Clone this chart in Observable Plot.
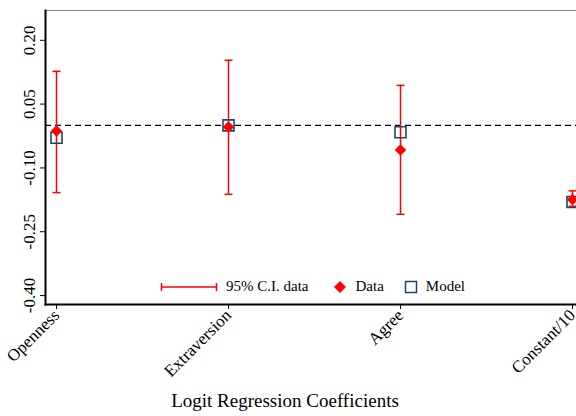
<!DOCTYPE html>
<html>
<head>
<meta charset="utf-8">
<script src="https://cdn.jsdelivr.net/npm/d3@7"></script>
<script src="https://cdn.jsdelivr.net/npm/@observablehq/plot@0.6"></script>
<style>
  html, body { margin: 0; padding: 0; background: #fff; }
  #chart { position: relative; width: 576px; height: 416px; overflow: hidden; font-family: "Liberation Serif", "Times New Roman", serif; }
  #legend { position: absolute; left: 158px; top: 278px; display: flex; align-items: center; font-size: 15px; color: #000; white-space: nowrap; }
  #legend .item { display: flex; align-items: center; }
  #legend svg { margin-right: 8px; }
</style>
</head>
<body>
<div id="chart"></div>
<script>
const categories = ["Openness", "Extraversion", "Agree", "Constant/10"];
const dataValues = [-0.013, -0.004, -0.058, -0.174];
const modelValues = [-0.029, 0.0, -0.016, -0.180];
const ciLow = [-0.158, -0.162, -0.209, -0.190];
const ciHigh = [0.127, 0.153, 0.094, -0.154];
const yTicks = [0.20, 0.05, -0.10, -0.25, -0.40];
const yDomain = [-0.421, 0.27];
const xTitle = "Logit Regression Coefficients";
const legendLabels = ["95% C.I. data", "Data", "Model"];

const rows = categories.map((c, i) => ({
  cat: c, data: dataValues[i], model: modelValues[i], lo: ciLow[i], hi: ciHigh[i]
}));

const red = "#ff0000";
const navy = "#1a476f";
const font = "Liberation Serif, Times New Roman, serif";

const capSymbol = {
  draw(context) {
    context.moveTo(-4, 0);
    context.lineTo(4, 0);
  }
};

const plot = Plot.plot({
  width: 576,
  height: 416,
  marginLeft: 45,
  marginRight: 0,
  marginTop: 10,
  marginBottom: 112,
  style: { fontFamily: font, fontSize: "17px", background: "#fff", overflow: "visible" },
  x: { type: "point", domain: categories, range: [55, 573], padding: 0 },
  y: { domain: yDomain },
  marks: [
    Plot.frame({ anchor: "top", stroke: "#8a8a8a", strokeWidth: 1.2 }),
    Plot.ruleY([0], { stroke: "#000", strokeWidth: 1.3, strokeDasharray: "6,4" }),
    Plot.ruleX(rows, { x: "cat", y1: "lo", y2: "hi", stroke: red, strokeWidth: 1.5 }),
    Plot.dot(rows, { x: "cat", y: "lo", symbol: capSymbol, fill: "none", stroke: red, strokeWidth: 1.5 }),
    Plot.dot(rows, { x: "cat", y: "hi", symbol: capSymbol, fill: "none", stroke: red, strokeWidth: 1.5 }),
    Plot.dot(rows, { x: "cat", y: "model", symbol: "square", r: 6.2, fill: "none", stroke: navy, strokeWidth: 1.6 }),
    Plot.dot(rows, { x: "cat", y: "data", symbol: "diamond2", r: 5.2, fill: red, stroke: "none" }),
    Plot.axisY({ ticks: yTicks, tickFormat: d => d.toFixed(2), tickRotate: -90, tickSize: 5, tickPadding: 6, fontSize: 17, label: null }),
    Plot.axisX({ tickRotate: -45, tickSize: 5, tickPadding: 3, fontSize: 17, label: null }),
    Plot.frame({ anchor: "left", stroke: "#000", strokeWidth: 2 }),
    Plot.frame({ anchor: "bottom", stroke: "#000", strokeWidth: 2 }),
    Plot.text([xTitle], { frameAnchor: "bottom", dx: -26, dy: 102, fontSize: 19, textAnchor: "middle", lineAnchor: "bottom", fill: "#000" })
  ]
});

document.getElementById("chart").appendChild(plot);

const legend = document.createElement("div");
legend.id = "legend";
legend.innerHTML = `
  <div class="item"><svg width="60" height="12"><line x1="3" y1="6" x2="59" y2="6" stroke="${red}" stroke-width="1.5"/><line x1="3.5" y1="2" x2="3.5" y2="10" stroke="${red}" stroke-width="1.5"/><line x1="58.5" y1="2" x2="58.5" y2="10" stroke="${red}" stroke-width="1.5"/></svg><span>${legendLabels[0]}</span></div>
  <div class="item" style="margin-left:25px"><svg width="14" height="14"><path d="M7,1 L13,7 L7,13 L1,7 Z" fill="${red}"/></svg><span>${legendLabels[1]}</span></div>
  <div class="item" style="margin-left:20px"><svg width="14" height="14"><rect x="1.5" y="1.5" width="11" height="11" fill="none" stroke="${navy}" stroke-width="1.5"/></svg><span>${legendLabels[2]}</span></div>
`;
document.getElementById("chart").appendChild(legend);
</script>
</body>
</html>
